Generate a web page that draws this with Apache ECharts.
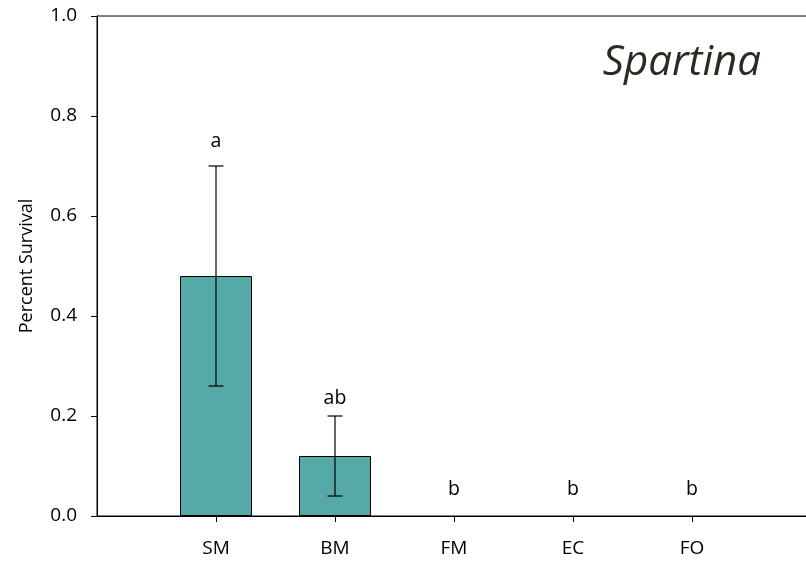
<!DOCTYPE html>
<html>
<head>
<meta charset="utf-8">
<title>Spartina survival</title>
<script src="https://cdn.jsdelivr.net/npm/echarts@6/dist/echarts.min.js"></script>
<style>
  html, body { margin: 0; padding: 0; background: #fff; }
  #chart { width: 806px; height: 563px; }
</style>
</head>
<body>
<div id="chart"></div>
<script>
// Site categories (padded with empty slots at both ends of the axis)
const categories = ['', 'SM', 'BM', 'FM', 'EC', 'FO', ''];
const siteNames = ['SM', 'BM', 'FM', 'EC', 'FO'];
// Mean percent survival per site
const survival = [0.48, 0.12, 0, 0, 0];
// Error bar bounds per site (null = none drawn)
const errLow = [0.26, 0.04, null, null, null];
const errHigh = [0.70, 0.20, null, null, null];
// Significance letters and the height they sit at
const letters = ['a', 'ab', 'b', 'b', 'b'];
const letterY = [0.75, 0.235, 0.053, 0.053, 0.053];
// Y axis ticks
const yMin = 0, yMax = 1, yStep = 0.2;

const FONT = '"Open Sans", "Noto Sans", sans-serif';

// zero-height bars get no outline so the baseline stays a single line
const barData = siteNames.map((n, i) => ({
  value: [n, survival[i]],
  itemStyle: survival[i] === 0 ? { borderWidth: 0 } : undefined
}));
const errData = siteNames.map((n, i) => [n, errLow[i], errHigh[i]]).filter(d => d[1] !== null);
const letterData = siteNames.map((n, i) => [n, letterY[i], letters[i]]);

const chart = echarts.init(document.getElementById('chart'), null, { renderer: 'canvas' });
chart.setOption({
  animation: false,
  backgroundColor: '#ffffff',
  grid: {
    left: 97, width: 714, top: 16, bottom: 47,
    outerBoundsMode: 'none',
    containLabel: false,
    show: true, borderColor: '#000', borderWidth: 1, backgroundColor: 'transparent'
  },
  title: {
    text: 'Spartina',
    right: 40, top: 37,
    textStyle: { fontFamily: FONT, fontStyle: 'italic', fontWeight: 'normal', fontSize: 42, color: '#2d2a22' }
  },
  xAxis: {
    type: 'category',
    data: categories,
    boundaryGap: false,
    axisLine: { lineStyle: { color: '#000', width: 1 } },
    axisTick: {
      length: 6,
      interval: (i) => i > 0 && i < categories.length - 1,
      lineStyle: { color: '#000' }
    },
    axisLabel: {
      margin: 23,
      interval: 0,
      fontFamily: FONT, fontSize: 19, color: '#000'
    },
    splitLine: { show: false }
  },
  yAxis: {
    type: 'value',
    min: yMin, max: yMax, interval: yStep,
    name: 'Percent Survival',
    nameLocation: 'middle',
    nameGap: 61,
    nameTextStyle: { fontFamily: FONT, fontSize: 18, color: '#000' },
    axisLine: { show: true, lineStyle: { color: '#000', width: 1 } },
    axisTick: { show: true, length: 6, lineStyle: { color: '#000' } },
    axisLabel: {
      margin: 20,
      fontFamily: FONT, fontSize: 19, color: '#000',
      formatter: (v) => v.toFixed(1)
    },
    splitLine: { show: false }
  },
  series: [
    {
      type: 'bar',
      data: barData,
      barWidth: '60.5%',
      itemStyle: { color: '#55a9a6', borderColor: '#000', borderWidth: 1 },
      z: 2
    },
    {
      type: 'custom',
      data: errData,
      z: 3,
      renderItem: (params, api) => {
        const x = api.value(0);
        const lo = api.coord([x, api.value(1)]);
        const hi = api.coord([x, api.value(2)]);
        const cap = 7.5;
        const style = { stroke: '#000', lineWidth: 1.2 };
        return {
          type: 'group',
          children: [
            { type: 'line', shape: { x1: lo[0], y1: lo[1], x2: hi[0], y2: hi[1] }, style },
            { type: 'line', shape: { x1: hi[0] - cap, y1: hi[1], x2: hi[0] + cap, y2: hi[1] }, style },
            { type: 'line', shape: { x1: lo[0] - cap, y1: lo[1], x2: lo[0] + cap, y2: lo[1] }, style }
          ]
        };
      }
    },
    {
      type: 'custom',
      data: letterData,
      z: 4,
      renderItem: (params, api) => {
        const p = api.coord([api.value(0), api.value(1)]);
        return {
          type: 'text',
          x: p[0], y: p[1],
          style: {
            text: letterData[params.dataIndex][2],
            fontFamily: FONT, fontSize: 19.5, fill: '#000',
            align: 'center', verticalAlign: 'middle'
          }
        };
      }
    }
  ]
});
</script>
</body>
</html>
